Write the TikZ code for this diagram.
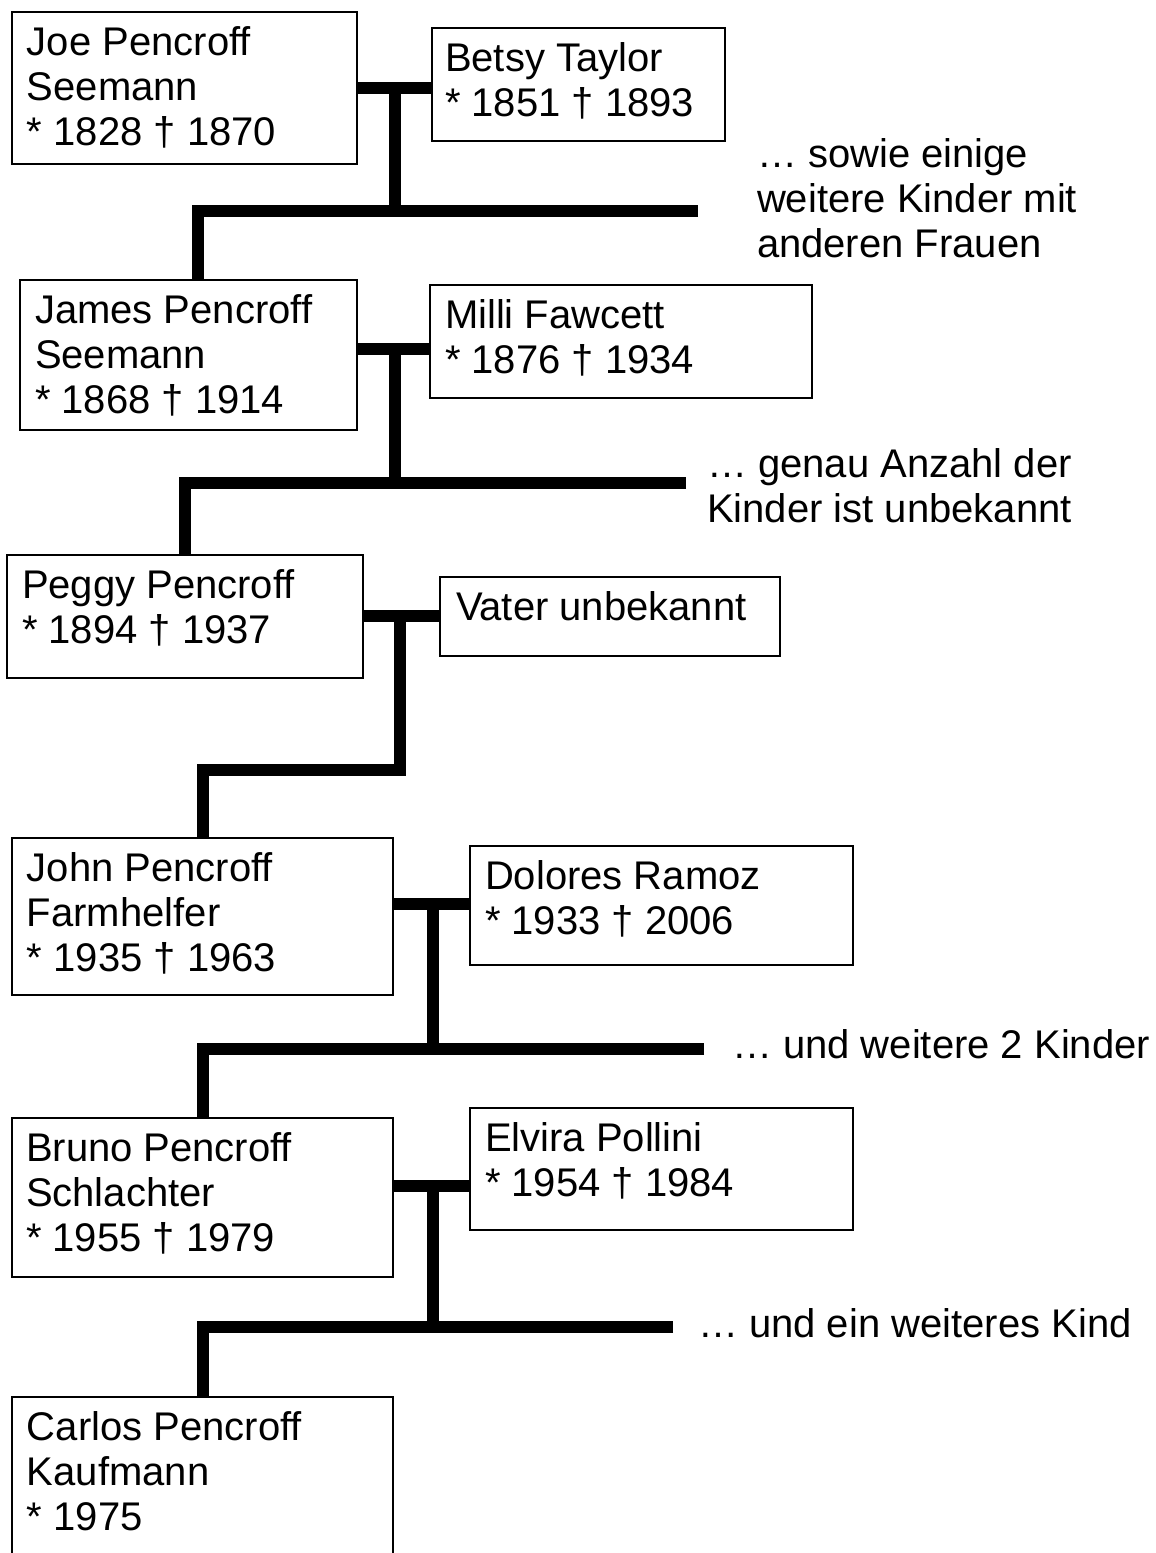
\documentclass[tikz,border=0pt]{standalone}
\usepackage{fontspec}
\setmainfont{Liberation Sans}
\newcommand{\famnode}[7]{%
  \node[box, minimum width=#4pt, minimum height=#5pt] (#1) at (#2,#3)
    {\parbox[c][#5pt][t]{#4pt}{\raggedright\leftskip=#6pt\rule{0pt}{43pt}#7}};}
\begin{document}
\begin{tikzpicture}[x=1pt,y=-1pt,
  box/.style={draw=black, line width=2.5pt, fill=white, inner sep=0pt, outer sep=0pt,
    anchor=north west, font=\fontsize{40}{45}\selectfont},
  conn/.style={line width=12pt, line cap=butt, line join=miter, draw=black},
  side/.style={anchor=base west, inner sep=0pt, outer sep=0pt,
    font=\fontsize{40}{45}\selectfont}]
\path[use as bounding box, clip] (0,0) rectangle (1156,1553);
\fill[white] (0,0) rectangle (1156,1553);

% persons
\famnode{joe}{12}{12}{345}{152}{15}{Joe Pencroff\\Seemann\\{}* 1828 † 1870}
\famnode{betsy}{432}{28}{293}{113}{13}{Betsy Taylor\\{}* 1851 † 1893}
\famnode{james}{20}{280}{337}{150}{15}{James Pencroff\\Seemann\\{}* 1868 † 1914}
\famnode{milli}{430}{285}{382}{113}{15}{Milli Fawcett\\{}* 1876 † 1934}
\famnode{peggy}{7}{555}{356}{123}{15}{Peggy Pencroff\\{}* 1894 † 1937}
\famnode{vater}{440}{577}{340}{79}{16}{Vater unbekannt}
\famnode{john}{12}{838}{381}{157}{15}{John Pencroff\\Farmhelfer\\{}* 1935 † 1963}
\famnode{dolores}{470}{846}{383}{119}{15}{Dolores Ramoz\\{}* 1933 † 2006}
\famnode{bruno}{12}{1118}{381}{159}{14}{Bruno Pencroff\\Schlachter\\{}* 1955 † 1979}
\famnode{elvira}{470}{1108}{383}{122}{15}{Elvira Pollini\\{}* 1954 † 1984}
\famnode{carlos}{12}{1397}{381}{175}{15}{Carlos Pencroff\\Kaufmann\\{}* 1975}

% side notes
\node[side] (s1) at (757,167) {\parbox[t]{400pt}{\raggedright … sowie einige\\weitere Kinder mit\\anderen Frauen}};
\node[side] (s2) at (707,477) {\parbox[t]{450pt}{\raggedright … genau Anzahl der\\Kinder ist unbekannt}};
\node[side] (s3) at (732,1058) {… und weitere 2 Kinder};
\node[side] (s4) at (698,1337) {… und ein weiteres Kind};

% junction coordinates
\coordinate (j1) at (395,88);   \coordinate (b1) at (395,211);
\coordinate (l1) at (198,211);  \coordinate (r1) at (698,211);
\coordinate (j2) at (395,349);  \coordinate (b2) at (395,483);
\coordinate (l2) at (185,483);  \coordinate (r2) at (686,483);
\coordinate (j3) at (400,616);  \coordinate (b3) at (400,770);
\coordinate (l3) at (203,770);
\coordinate (j4) at (433,904);  \coordinate (b4) at (433,1049);
\coordinate (l4) at (203,1049); \coordinate (r4) at (704,1049);
\coordinate (j5) at (433,1186); \coordinate (b5) at (433,1327);
\coordinate (l5) at (203,1327); \coordinate (r5) at (673,1327);

% family 1
\draw[conn] (joe.east |- j1) -- (betsy.west |- j1);
\draw[conn] (j1) -- (b1);
\draw[conn] (r1) -- (l1) -- (l1 |- james.north);
% family 2
\draw[conn] (james.east |- j2) -- (milli.west |- j2);
\draw[conn] (j2) -- (b2);
\draw[conn] (r2) -- (l2) -- (l2 |- peggy.north);
% family 3
\draw[conn] (peggy.east |- j3) -- (vater.west |- j3);
\draw[conn] (j3) -- (b3) -- (l3) -- (l3 |- john.north);
% family 4
\draw[conn] (john.east |- j4) -- (dolores.west |- j4);
\draw[conn] (j4) -- (b4);
\draw[conn] (r4) -- (l4) -- (l4 |- bruno.north);
% family 5
\draw[conn] (bruno.east |- j5) -- (elvira.west |- j5);
\draw[conn] (j5) -- (b5);
\draw[conn] (r5) -- (l5) -- (l5 |- carlos.north);
\end{tikzpicture}
\end{document}
